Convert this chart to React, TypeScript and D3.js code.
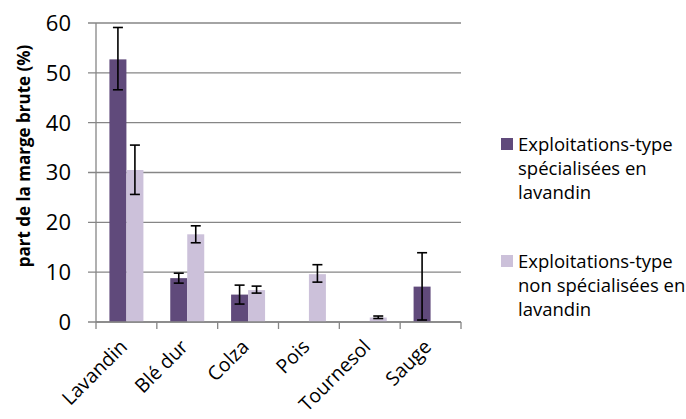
import React from "react";
import * as d3 from "d3";

const categories = ["Lavandin", "Blé dur", "Colza", "Pois", "Tournesol", "Sauge"];
const seriesNames = [
  ["Exploitations-type", "spécialisées en", "lavandin"],
  ["Exploitations-type", "non spécialisées en", "lavandin"],
];
const specValues: (number | null)[] = [52.7, 8.8, 5.5, null, null, 7.1];
const specErrLow: (number | null)[] = [46.6, 7.8, 3.6, null, null, 0.4];
const specErrHigh: (number | null)[] = [59.1, 9.8, 7.4, null, null, 13.9];
const nonSpecValues: (number | null)[] = [30.5, 17.6, 6.4, 9.6, 0.9, null];
const nonSpecErrLow: (number | null)[] = [25.6, 15.9, 5.8, 8.0, 0.7, null];
const nonSpecErrHigh: (number | null)[] = [35.5, 19.3, 7.2, 11.5, 1.2, null];
const yTicks = [0, 10, 20, 30, 40, 50, 60];
const yTitle = "part de la marge brute (%)";

const colors = ["#604A7B", "#CCC1DA"];

export default function App() {
  const W = 686, H = 419;
  const left = 96, right = 461, top = 23, bottom = 322;
  const x = d3.scaleBand<string>().domain(categories).range([left, right]).padding(0);
  const inner = d3.scaleBand<string>().domain(["0", "1"]).range([0, x.bandwidth()]).paddingInner(0).paddingOuter(0.79);
  const y = d3.scaleLinear().domain([0, 60]).range([bottom, top]);
  const font = "'Open Sans', sans-serif";
  const series = [
    { v: specValues, lo: specErrLow, hi: specErrHigh },
    { v: nonSpecValues, lo: nonSpecErrLow, hi: nonSpecErrHigh },
  ];
  const boundaries = d3.range(categories.length + 1).map((i) => left + i * x.step());
  return (
    <svg width={W} height={H} style={{ position: "absolute", left: 0, top: 0, background: "#fff" }}>
      {yTicks.map((t) => (
        <g key={t}>
          <line x1={88} x2={right} y1={y(t)} y2={y(t)} stroke="#868686" strokeWidth={1.3} />
          <text x={71} y={y(t)} dy="0.36em" textAnchor="end" fontFamily={font} fontSize={22} fill="#000">{t}</text>
        </g>
      ))}
      <line x1={left} x2={left} y1={top} y2={bottom} stroke="#868686" strokeWidth={1.3} />
      {boundaries.map((b, i) => (
        <line key={i} x1={b} x2={b} y1={bottom} y2={bottom + 7} stroke="#868686" strokeWidth={1.3} />
      ))}
      {series.map((s, si) =>
        categories.map((c, ci) => {
          const v = s.v[ci];
          if (v == null) return null;
          const bx = (x(c) as number) + (inner(String(si)) as number);
          const bw = inner.bandwidth();
          const cx = bx + bw / 2;
          const lo = s.lo[ci] as number, hi = s.hi[ci] as number;
          return (
            <g key={si + "-" + ci}>
              <rect x={bx} y={y(v)} width={bw} height={y(0) - y(v)} fill={colors[si]} />
              <line x1={cx} x2={cx} y1={y(hi)} y2={y(lo)} stroke="#000" strokeWidth={1.6} />
              <line x1={cx - 5} x2={cx + 5} y1={y(hi)} y2={y(hi)} stroke="#000" strokeWidth={1.6} />
              <line x1={cx - 5} x2={cx + 5} y1={y(lo)} y2={y(lo)} stroke="#000" strokeWidth={1.6} />
            </g>
          );
        })
      )}
      <line x1={left} x2={right} y1={bottom} y2={bottom} stroke="#868686" strokeWidth={1.3} />
      {categories.map((c) => {
        const cx = (x(c) as number) + x.bandwidth() / 2 + 2;
        const cy = bottom + 26;
        return (
          <text key={c} x={cx} y={cy} textAnchor="end" transform={`rotate(-45 ${cx} ${cy})`} fontFamily={font} fontSize={19.5} fill="#000">{c}</text>
        );
      })}
      <text x={0} y={0} transform={`translate(30 156) rotate(-90)`} textAnchor="middle" fontFamily={font} fontSize={17} fontWeight="bold" fill="#000">{yTitle}</text>
      {seriesNames.map((lines, si) => {
        const baseY = 151 + si * 117;
        return (
          <g key={si}>
            <rect x={501} y={baseY - 13} width={12} height={12} fill={colors[si]} />
            {lines.map((l, li) => (
              <text key={li} x={518} y={baseY + li * 24} fontFamily={font} fontSize={18.5} fill="#000">{l}</text>
            ))}
          </g>
        );
      })}
    </svg>
  );
}
